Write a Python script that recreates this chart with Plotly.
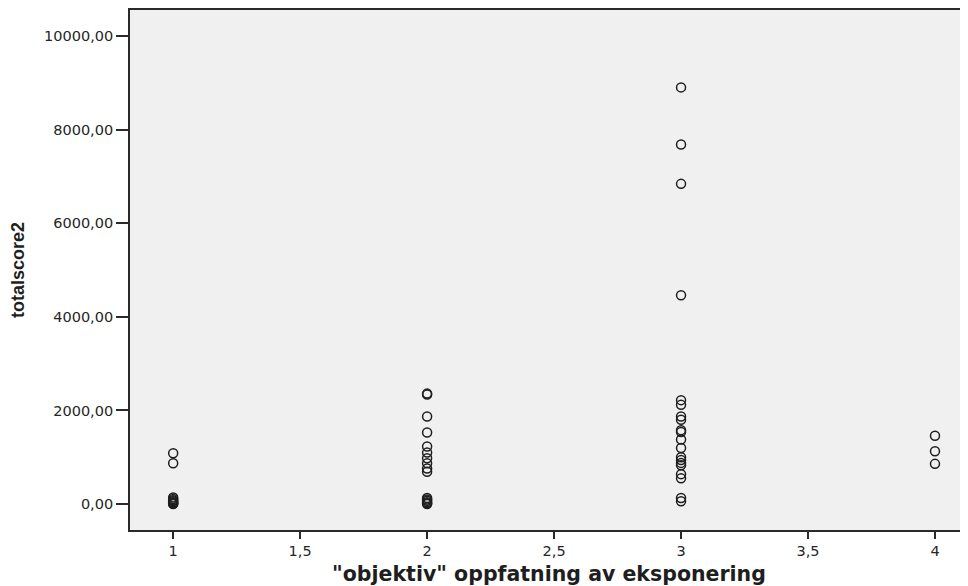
import plotly.graph_objects as go

# data
group1 = [1085, 872, 140, 110, 80, 60, 40, 20, 10, 0]
group2 = [2360, 2340, 1872, 1530, 1230, 1100, 980, 870, 760, 690, 130, 100, 70, 40, 20, 0]
group3 = [8900, 7680, 6840, 4460, 2220, 2120, 1870, 1800, 1580, 1540, 1380, 1200,
          1000, 940, 880, 830, 640, 550, 130, 60]
group4 = [1460, 1130, 860]

x_vals = [1] * len(group1) + [2] * len(group2) + [3] * len(group3) + [4] * len(group4)
y_vals = group1 + group2 + group3 + group4

x_tickvals = [1, 1.5, 2, 2.5, 3, 3.5, 4]
x_ticktext = ["1", "1,5", "2", "2,5", "3", "3,5", "4"]
y_tickvals = [0, 2000, 4000, 6000, 8000, 10000]
y_ticktext = ["0,00", "2000,00", "4000,00", "6000,00", "8000,00", "10000,00"]

fig = go.Figure()
fig.add_trace(go.Scatter(
    x=x_vals, y=y_vals, mode="markers",
    marker=dict(symbol="circle-open", size=9, color="#1e1e1e", line=dict(width=1.5)),
    showlegend=False,
))

tick_font = dict(family="DejaVu Sans, sans-serif", size=14.5, color="#262626")
fig.update_layout(
    width=960, height=578,
    margin=dict(l=122, r=0, t=2, b=56),
    paper_bgcolor="white",
    plot_bgcolor="#f0f0f0",
    font=tick_font,
    xaxis=dict(
        range=[0.83, 4.13], tickvals=x_tickvals, ticktext=x_ticktext,
        showgrid=False, zeroline=False,
        showline=True, linecolor="#2a2a2a", linewidth=1.8, mirror=True,
        ticks="outside", ticklen=7, tickcolor="#2a2a2a", tickwidth=1.8,
        tickfont=tick_font,
        title=dict(text="<b>\"objektiv\" oppfatning av eksponering</b>",
                   font=dict(family="DejaVu Sans, sans-serif", size=20.5, color="#1e1e1e"),
                   standoff=10),
    ),
    yaxis=dict(
        range=[-553, 10553], tickvals=y_tickvals, ticktext=y_ticktext,
        showgrid=False, zeroline=False,
        showline=True, linecolor="#2a2a2a", linewidth=1.8,
        ticks="outside", ticklen=12, tickcolor="#2a2a2a", tickwidth=1.8,
        tickfont=tick_font,
        title=dict(text="<b>totalscore2</b>",
                   font=dict(family="Liberation Sans, Arial, sans-serif", size=18, color="#1e1e1e"),
                   standoff=16),
    ),
)

fig.write_html("out.html")
